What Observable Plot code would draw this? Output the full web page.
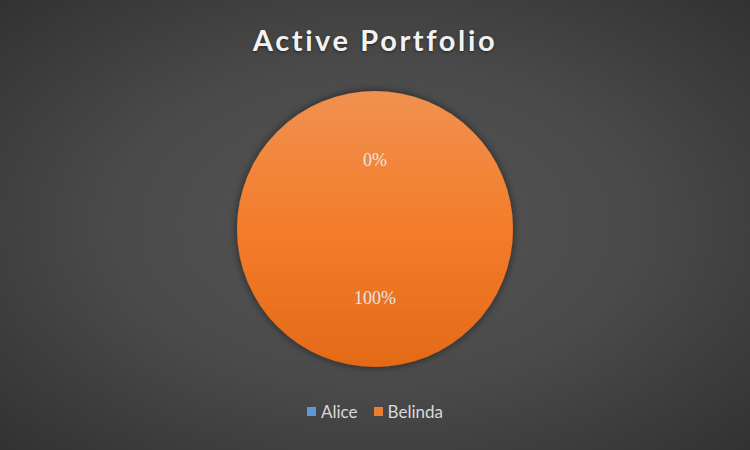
<!DOCTYPE html>
<html>
<head>
<meta charset="utf-8">
<script src="https://cdn.jsdelivr.net/npm/d3@7"></script>
<script src="https://cdn.jsdelivr.net/npm/@observablehq/plot@0.6"></script>
<style>
  html, body { margin: 0; padding: 0; }
  #chart {
    position: relative; width: 750px; height: 450px; overflow: hidden;
    background: radial-gradient(ellipse 78% 80% at 50% 50%, #555555 0%, #4a4a4a 45%, #2c2c2c 100%);
  }
  #title {
    position: absolute; left: 0; top: 22px; width: 750px; text-align: center;
    font-family: Lato, "Open Sans", sans-serif; font-weight: bold; font-size: 29px;
    letter-spacing: 2.6px; color: #f2f2f2; text-shadow: 0 1px 3px rgba(0,0,0,0.5);
  }
  #plot { position: absolute; left: 0; top: 0; }
  #legend {
    position: absolute; left: 0; top: 401px; width: 750px; display: flex; justify-content: center;
    font-family: Lato, "Open Sans", sans-serif; font-size: 17px; color: #d9d9d9; gap: 16px;
  }
  #legend .item { display: flex; align-items: center; }
  #legend .sw { width: 9px; height: 9px; margin-right: 5px; }
</style>
</head>
<body>
<div id="chart">
  <div id="title">Active Portfolio</div>
  <div id="plot"></div>
  <div id="legend"></div>
</div>
<script>
const names = ["Alice", "Belinda"];
const values = [0, 1];
const labels = ["0%", "100%"];
const colors = ["#5b9bd5", "#ed7d31"];

const data = names.map((n, i) => ({name: n, value: values[i], label: labels[i]}));
const arcs = d3.pie().value(d => d.value).sort(null)(data);

function pieMark(index, scales, values, dimensions) {
  const cx = scales.x(0), cy = scales.y(0);
  const r = Math.abs(scales.x(1) - scales.x(0));
  const g = d3.create("svg:g");
  const defs = g.append("defs");
  const grads = data.map((d, i) => {
    const c = d3.color(scales.color(d.name));
    const id = "grad" + i;
    const lg = defs.append("linearGradient").attr("id", id).attr("x1", 0).attr("y1", 0).attr("x2", 0).attr("y2", 1);
    lg.append("stop").attr("offset", "0%").attr("stop-color", d3.interpolateRgb(c, "#fff")(0.15));
    lg.append("stop").attr("offset", "50%").attr("stop-color", d3.interpolateRgb(c, "#ff7a20")(0.4));
    lg.append("stop").attr("offset", "100%").attr("stop-color", d3.interpolateRgb(c, "#dc5e08")(0.6));
    return id;
  });
  const f = defs.append("filter").attr("id", "shadow").attr("x", "-20%").attr("y", "-20%").attr("width", "140%").attr("height", "140%");
  f.append("feDropShadow").attr("dx", 0).attr("dy", 0).attr("stdDeviation", 4).attr("flood-color", "#000").attr("flood-opacity", 0.55);
  const arc = d3.arc().innerRadius(0).outerRadius(r);
  const gg = g.append("g").attr("transform", `translate(${cx},${cy})`).attr("filter", "url(#shadow)");
  arcs.forEach((a, i) => {
    if (a.endAngle - a.startAngle <= 0) return;
    if (a.endAngle - a.startAngle >= 2 * Math.PI - 1e-9) {
      gg.append("circle").attr("r", r).attr("fill", `url(#${grads[i]})`);
    } else {
      gg.append("path").attr("d", arc(a)).attr("fill", `url(#${grads[i]})`);
    }
  });
  const lg = g.append("g").attr("transform", `translate(${cx},${cy})`);
  arcs.forEach((a) => {
    const [x, y] = arc.centroid(a);
    lg.append("text").attr("x", x).attr("y", y).attr("dy", "0.35em")
      .attr("text-anchor", "middle")
      .attr("font-family", "'Liberation Serif', 'DejaVu Serif', serif")
      .attr("font-size", 18).attr("fill", "#e6e6e6")
      .text(a.data.label);
  });
  return g.node();
}

const plot = Plot.plot({
  width: 750, height: 450,
  marginLeft: 237, marginRight: 237, marginTop: 91, marginBottom: 83,
  x: {domain: [-1, 1], axis: null},
  y: {domain: [1, -1], axis: null},
  color: {domain: names, range: colors},
  style: {background: "transparent", overflow: "visible"},
  marks: [pieMark]
});
document.getElementById("plot").appendChild(plot);

const leg = document.getElementById("legend");
names.forEach((n, i) => {
  const it = document.createElement("div");
  it.className = "item";
  const sw = document.createElement("div");
  sw.className = "sw";
  sw.style.background = colors[i];
  it.appendChild(sw);
  const t = document.createElement("span");
  t.textContent = n;
  it.appendChild(t);
  leg.appendChild(it);
});
</script>
</body>
</html>
